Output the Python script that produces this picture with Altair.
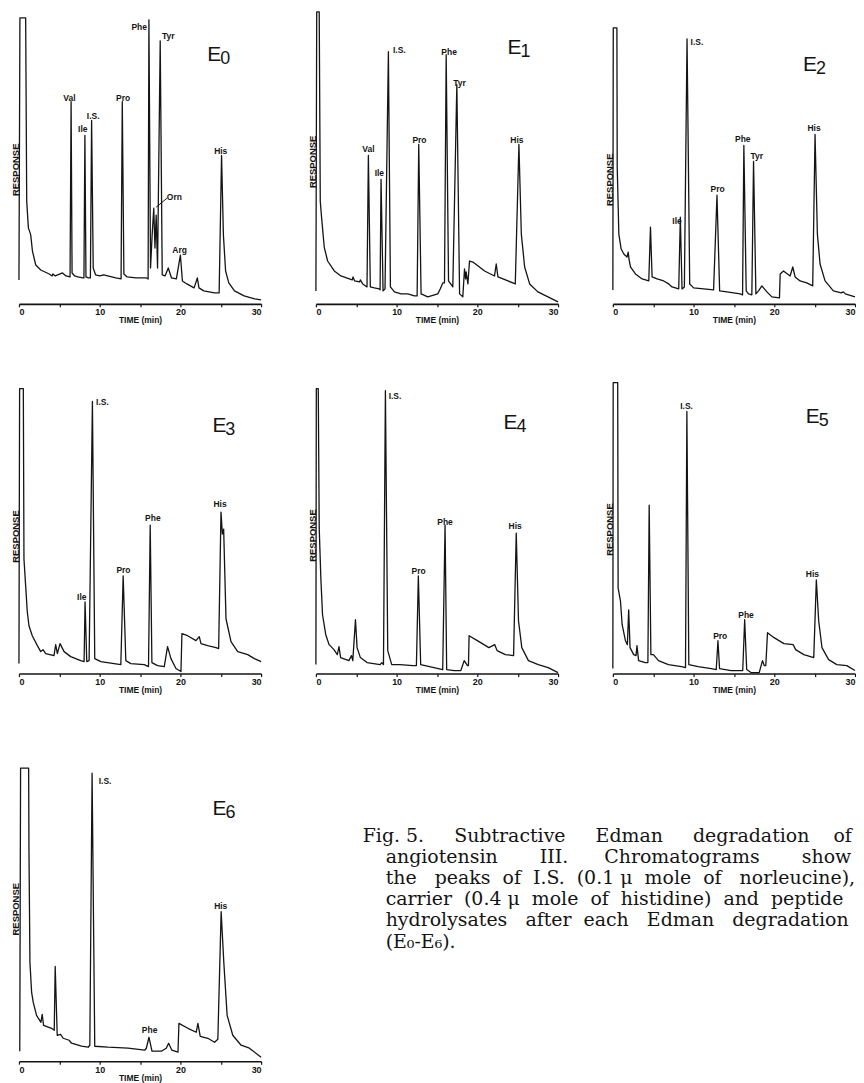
import altair as alt
import pandas as pd

# ---- chromatogram traces: (time [min], response [arbitrary units]) ----
E0_trace = [(0.0, 24), (0.12, 287), (0.83, 287), (0.96, 103), (1.17, 76), (1.35, 72), (1.46, 69),
            (1.67, 53), (2.08, 39), (2.7, 34), (3.75, 30), (4.1, 28), (4.2, 30), (4.5, 28), (5.4, 31),
            (5.83, 28), (6.33, 27), (6.46, 203), (6.58, 31), (6.9, 28), (7.3, 27), (7.9, 26), (8.05, 26),
            (8.17, 169), (8.3, 27), (8.6, 26), (8.85, 26), (9.0, 184), (9.2, 36), (9.5, 29), (10.0, 28),
            (10.5, 29), (11.0, 28), (12.0, 26), (12.65, 25), (12.8, 203), (13.0, 30), (13.4, 27),
            (14.5, 26), (15.8, 26), (16.0, 25), (16.1, 285), (16.3, 36), (16.5, 69), (16.7, 96),
            (16.85, 56), (17.0, 89), (17.17, 36), (17.5, 264), (17.75, 29), (18.1, 28), (18.5, 36),
            (18.9, 26), (19.5, 25), (20.0, 49), (20.25, 23), (20.8, 20), (21.7, 16), (22.1, 26),
            (22.3, 16), (22.9, 13), (24.2, 11), (24.8, 11), (25.1, 149), (25.33, 69), (25.6, 33),
            (26.0, 21), (26.7, 13), (27.9, 8), (29.2, 5), (30.0, 4)]
E1_trace = [(0.0, 13), (0.1, 293), (0.41, 293), (0.54, 103), (0.7, 87), (1.03, 57), (1.45, 43),
            (2.28, 33), (3.1, 28), (4.14, 25), (4.5, 24), (4.6, 27), (4.8, 23), (5.4, 22), (5.5, 24),
            (5.8, 20), (6.33, 17), (6.5, 149), (6.74, 17), (7.24, 16), (7.86, 15), (7.95, 14),
            (8.07, 125), (8.32, 13), (8.56, 15), (8.98, 253), (9.23, 17), (9.72, 12), (10.55, 10),
            (11.38, 10), (12.2, 8), (12.54, 8), (12.74, 160), (13.03, 10), (13.86, 7), (15.1, 10),
            (15.4, 15), (15.72, 21), (15.93, 21), (16.14, 250), (16.43, 23), (16.96, 17), (17.46, 220),
            (17.8, 10), (18.2, 7), (18.41, 35), (18.55, 25), (18.62, 32), (18.83, 20), (19.03, 43),
            (19.45, 42), (20.9, 33), (22.13, 28), (22.34, 40), (22.55, 27), (23.8, 23), (24.7, 20),
            (25.15, 160), (25.45, 70), (25.86, 37), (26.48, 20), (27.5, 12), (28.75, 7), (30.0, 2)]
E2_trace = [(0.0, 14), (0.05, 277), (0.5, 277), (0.54, 137), (0.74, 70), (1.03, 55), (1.36, 50),
            (1.75, 47), (1.9, 52), (2.0, 45), (2.18, 37), (2.8, 30), (3.63, 25), (4.45, 23), (4.66, 77),
            (4.86, 27), (5.48, 25), (6.3, 23), (6.92, 20), (7.33, 17), (8.16, 15), (8.36, 87),
            (8.57, 15), (8.86, 17), (9.19, 266), (9.52, 20), (10.01, 16), (11.25, 15), (12.48, 14),
            (12.9, 109), (13.23, 13), (14.13, 12), (15.78, 10), (16.07, 9), (16.23, 159), (16.52, 13),
            (16.81, 10), (17.22, 9), (17.43, 143), (17.72, 10), (18.05, 13), (18.46, 18), (19.08, 12),
            (19.7, 7), (20.64, 6), (20.73, 30), (21.14, 33), (21.96, 28), (22.29, 37), (22.58, 27),
            (23.2, 23), (24.02, 21), (24.76, 18), (25.05, 170), (25.34, 70), (25.67, 40), (26.29, 23),
            (27.32, 13), (28.3, 11), (28.55, 12), (28.8, 10), (30.0, 7)]
E3_trace = [(0.0, 10), (0.08, 286), (0.54, 286), (0.62, 115), (0.83, 88), (1.03, 62), (1.24, 48),
            (1.65, 38), (2.28, 28), (2.69, 22), (2.98, 24), (3.31, 20), (4.34, 18), (4.55, 29),
            (4.76, 20), (5.09, 30), (5.59, 22), (6.41, 17), (7.65, 13), (8.07, 12), (8.19, 72),
            (8.4, 12), (8.69, 13), (9.1, 273), (9.39, 15), (10.14, 12), (11.79, 10), (12.62, 9),
            (12.91, 98), (13.24, 13), (13.86, 10), (15.52, 9), (16.05, 7), (16.26, 149), (16.47, 11),
            (17.17, 8), (18.0, 7), (18.41, 27), (18.83, 15), (19.45, 5), (20.07, 2), (20.19, 40),
            (20.89, 38), (21.93, 33), (22.34, 37), (22.55, 30), (23.38, 28), (24.41, 26), (24.74, 25),
            (25.03, 162), (25.2, 140), (25.36, 145), (25.65, 55), (26.27, 32), (27.1, 22), (28.34, 19),
            (29.17, 15), (30.0, 12)]
E4_trace = [(0.0, 9), (0.05, 286), (0.29, 286), (0.41, 146), (0.61, 96), (0.82, 59), (1.22, 39),
            (1.63, 29), (2.24, 24), (2.65, 19), (2.86, 27), (3.06, 16), (4.08, 13), (4.41, 18),
            (4.57, 13), (4.9, 54), (5.1, 26), (5.51, 16), (6.33, 11), (7.96, 9), (8.16, 11), (8.37, 9),
            (8.61, 284), (8.9, 23), (9.39, 9), (10.41, 9), (12.04, 8), (12.45, 8), (12.69, 98),
            (12.98, 9), (14.08, 7), (15.71, 4), (16.0, 149), (16.2, 4), (17.14, 3), (17.96, 3),
            (18.37, 13), (18.78, 8), (18.9, 8), (18.98, 38), (20.0, 33), (21.43, 26), (22.16, 29),
            (22.45, 23), (23.47, 19), (24.49, 18), (24.82, 141), (25.1, 53), (25.51, 26), (26.33, 13),
            (27.55, 9), (28.78, 6), (30.0, 1)]
E5_trace = [(0.0, 5), (0.04, 292), (0.6, 292), (0.65, 86), (0.94, 73), (1.15, 49), (1.56, 33),
            (1.8, 29), (1.96, 64), (2.13, 26), (2.58, 19), (2.87, 18), (2.99, 28), (3.19, 13),
            (4.01, 11), (4.34, 11), (4.5, 169), (4.71, 19), (5.03, 19), (5.65, 13), (6.88, 9),
            (8.51, 7), (9.0, 6), (9.17, 263), (9.41, 9), (10.56, 7), (12.2, 5), (12.81, 4), (13.02, 33),
            (13.22, 5), (14.65, 3), (16.09, 3), (16.33, 54), (16.58, 4), (17.11, 1), (18.13, 1),
            (18.54, 13), (18.75, 8), (18.95, 8), (19.16, 41), (19.97, 36), (21.2, 30), (22.35, 29),
            (22.64, 24), (23.66, 19), (24.89, 16), (25.21, 94), (25.5, 53), (25.91, 26), (26.73, 14),
            (27.75, 9), (28.98, 8), (30.0, 3)]
E6_trace = [(0.1, 10), (0.2, 294), (1.2, 294), (1.24, 211), (1.36, 99), (1.57, 69), (1.77, 59),
            (2.18, 46), (2.72, 39), (2.88, 47), (3.05, 36), (4.04, 33), (4.37, 31), (4.49, 95),
            (4.74, 26), (5.15, 27), (5.48, 23), (6.22, 21), (6.51, 18), (7.75, 15), (8.57, 14),
            (8.78, 16), (9.06, 289), (9.39, 15), (11.04, 14), (13.51, 13), (15.57, 11), (15.78, 13),
            (16.11, 24), (16.4, 13), (16.48, 10), (17.64, 10), (18.25, 13), (18.54, 18), (18.95, 11),
            (19.7, 9), (19.82, 38), (20.93, 33), (21.96, 29), (22.17, 38), (22.46, 25), (23.4, 23),
            (24.23, 19), (24.64, 22), (25.05, 150), (25.38, 99), (25.79, 46), (26.49, 26), (27.52, 16),
            (28.55, 13), (30.0, 4)]

# ---- peak labels: (name, time, response) ----
E0_labels = [("Val", 6.25, 207), ("Ile", 7.9, 175), ("I.S.", 9.2, 189), ("Pro", 12.9, 207),
             ("Phe", 14.9, 278), ("Tyr", 18.5, 269), ("Orn", 19.25, 107), ("Arg", 19.9, 54),
             ("His", 25.0, 153)]
E1_labels = [("Val", 6.5, 155), ("Ile", 7.86, 131), ("I.S.", 10.34, 255), ("Pro", 12.83, 164),
             ("Phe", 16.5, 253), ("Tyr", 17.8, 222), ("His", 24.9, 164)]
E2_labels = [("Ile", 7.95, 83), ("I.S.", 10.42, 263), ("Pro", 12.98, 115), ("Phe", 16.1, 165),
             ("Tyr", 17.84, 148), ("His", 24.93, 176)]
E3_labels = [("Ile", 7.78, 77), ("I.S.", 10.34, 272), ("Pro", 12.95, 104), ("Phe", 16.59, 156),
             ("His", 24.91, 170)]
E4_labels = [("I.S.", 9.8, 279), ("Pro", 12.73, 103), ("Phe", 16.0, 152), ("His", 24.69, 148)]
E5_labels = [("I.S.", 9.13, 268), ("Pro", 13.3, 38), ("Phe", 16.5, 59), ("His", 24.72, 100)]
E6_labels = [("I.S.", 10.67, 281), ("Phe", 16.19, 31), ("His", 25.0, 156)]

# Orn pointer in E0: (time, response, time2, response2)
E0_pointer = [(17.0, 97, 18.33, 106)]

# panel tags E_n: (subscript, time, response)
panel_tags = [("0", 24.2, 250), ("1", 24.6, 257), ("2", 24.43, 240), ("3", 24.83, 248),
              ("4", 24.1, 251), ("5", 24.76, 257), ("6", 24.85, 253)]

NB = "\u00a0"


def spaced(parts):
    # parts alternate: word, number of spaces, word, ...
    out = ""
    for p in parts:
        out += NB * p if isinstance(p, int) else p
    return out


caption_lines = [
    spaced(["Fig.", 1, "5.", 5, "Subtractive", 5, "Edman", 5, "degradation", 4, "of"]),
    spaced(["angiotensin", 7, "III.", 6, "Chromatograms", 7, "show"]),
    spaced(["the", 3, "peaks", 2, "of", 2, "I.S.", 2, "(0.1", 1, "\u03bc", 2, "mole", 2, "of", 3, "norleucine),"]),
    spaced(["carrier", 2, "(0.4", 1, "\u03bc", 2, "mole", 2, "of", 2, "histidine)", 2, "and", 2, "peptide"]),
    spaced(["hydrolysates", 3, "after", 2, "each", 3, "Edman", 3, "degradation"]),
    "(E\u2080-E\u2086).",
]

SANS = "Liberation Sans"
INK = "#141414"
W = 243


def panel(trace, labels, tag, height, ymax, title_y, pointer=None, caption=None):
    tdf = pd.DataFrame(trace, columns=["time", "response"])
    tdf["order"] = range(len(tdf))
    ldf = pd.DataFrame(labels, columns=["name", "time", "response"])
    gdf = pd.DataFrame([{"time": tag[1], "response": tag[2], "E": "E", "n": tag[0]}])

    x = alt.X("time:Q", scale=alt.Scale(domain=[0, 30], nice=False, zero=False),
              axis=alt.Axis(title="TIME (min)", values=[0, 5, 10, 15, 20, 25, 30],
                            labelExpr="datum.value % 10 == 0 ? datum.label : ''",
                            grid=False, tickSize=3, labelPadding=1, titlePadding=-1,
                            titleFontSize=8.5))
    y = alt.Y("response:Q", scale=alt.Scale(domain=[0, ymax], nice=False),
              axis=alt.Axis(title="RESPONSE", labels=False, ticks=False, domain=False,
                            grid=False, titlePadding=-2, titleY=title_y, titleFontSize=9.5))

    line = alt.Chart(tdf).mark_line(color=INK, strokeWidth=1.3, strokeJoin="round").encode(
        x=x, y=y, order="order:Q")
    text = alt.Chart(ldf).mark_text(font=SANS, fontWeight="bold", fontSize=8.5, color=INK).encode(
        x=x, y=y, text="name:N")
    e = alt.Chart(gdf).mark_text(font=SANS, fontSize=21, color=INK).encode(x=x, y=y, text="E:N")
    n = alt.Chart(gdf).mark_text(font=SANS, fontSize=18, color=INK, dx=11, dy=4).encode(
        x=x, y=y, text="n:N")
    layers = [line, text, e, n]
    if pointer:
        pdf = pd.DataFrame(pointer, columns=["time", "response", "time2", "response2"])
        layers.append(alt.Chart(pdf).mark_rule(color=INK, strokeWidth=1).encode(
            x=x, y=y, x2="time2:Q", y2="response2:Q"))
    if caption:
        for i, txt in enumerate(caption):
            cdf = pd.DataFrame({"text": [txt]})
            layers.append(alt.Chart(cdf).mark_text(
                font="DejaVu Serif", fontSize=19, align="left", baseline="alphabetic", color=INK
            ).encode(x=alt.value(345 if i == 0 else 368), y=alt.value(93 + 21.2 * i), text="text:N"))
    return alt.layer(*layers).properties(width=W, height=height)


p0 = panel(E0_trace, E0_labels, panel_tags[0], 295, 295, 160, pointer=E0_pointer)
p1 = panel(E1_trace, E1_labels, panel_tags[1], 295, 295, 152)
p2 = panel(E2_trace, E2_labels, panel_tags[2], 295, 295, 170)
p3 = panel(E3_trace, E3_labels, panel_tags[3], 295, 295, 157)
p4 = panel(E4_trace, E4_labels, panel_tags[4], 295, 295, 156)
p5 = panel(E5_trace, E5_labels, panel_tags[5], 295, 295, 150)
p6 = panel(E6_trace, E6_labels, panel_tags[6], 313, 313, 160, caption=caption_lines)

chart = alt.concat(
    p0, p1, p2, p3, p4, p5, p6, columns=3,
    spacing={"row": 76, "column": 55}, bounds="flush", align="each",
).properties(
    padding={"left": 3, "top": 0, "right": 0, "bottom": 0}
).configure_view(stroke=None).configure_axis(
    labelFont=SANS, labelFontWeight="bold", labelFontSize=9, labelColor=INK,
    titleFont=SANS, titleFontWeight="bold", titleFontSize=8, titleColor=INK,
    domainColor=INK, domainWidth=1.6, tickColor=INK, tickWidth=1.2,
)

chart.save("out.html", embed_options={"renderer": "svg", "actions": False})
